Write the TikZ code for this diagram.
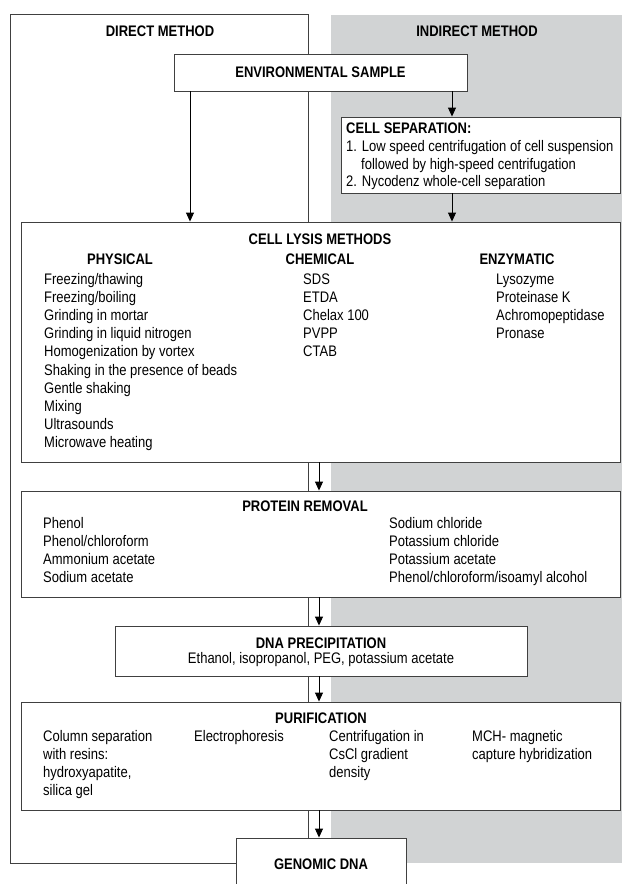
\documentclass[tikz,border=0pt]{standalone}
\usepackage{fontspec}
\setmainfont[FakeStretch=0.85]{Liberation Sans}
\usetikzlibrary{arrows.meta}

\definecolor{indirectfill}{RGB}{209,211,212}
\definecolor{framegray}{RGB}{64,64,64}

\tikzset{
    stage/.style={draw=framegray, line width=0.9pt, fill=white, inner sep=0pt},
    heading/.style={font=\fontsize{15.3}{18}\selectfont\bfseries, inner sep=0pt},
    entry/.style={anchor=base west, inner sep=0pt},
    flow/.style={draw=black, line width=0.9pt, -{Triangle[length=9pt,width=8pt]}},
}

\begin{document}
\begin{tikzpicture}[x=1pt, y=-1pt, font=\fontsize{15.3}{18}\selectfont]
        \useasboundingbox (0,0) rectangle (622,884);
        \clip (0,0) rectangle (622,884);

        % Background: direct and indirect columns
        \fill[indirectfill] (331,15) rectangle (622,863);
        \draw[framegray, line width=0.9pt] (10,14) rectangle (308,863);
        \node[heading, anchor=base] (direct) at (160,36) {DIRECT METHOD};
        \node[heading, anchor=base] (indirect) at (477,36) {INDIRECT METHOD};

        % Sample and cell separation
        \node[stage, minimum width=293, minimum height=37] (env) at (320.5,72.5) {\bfseries ENVIRONMENTAL SAMPLE};
        \node[stage, minimum width=279, minimum height=76] (cellsep) at (480.5,155) {};
        \node[heading, entry] (septitle) at (346,133) {CELL SEPARATION:};
        \node[entry] (sep1) at (346,151) {1. Low speed centrifugation of cell suspension};
        \node[entry] (sep1b) at (361,169) {followed by high-speed centrifugation};
        \node[entry] (sep2) at (346,186) {2. Nycodenz whole-cell separation};

        % Cell lysis
        \node[stage, minimum width=599, minimum height=240] (lysis) at (320.5,342) {};
        \node[heading, anchor=base] (lysistitle) at (320,244) {CELL LYSIS METHODS};
        \node[heading, anchor=base] (physical) at (120,264) {PHYSICAL};
        \node[heading, anchor=base] (chemical) at (320,264) {CHEMICAL};
        \node[heading, anchor=base] (enzymatic) at (517,264) {ENZYMATIC};
        \foreach \txt [count=\i from 0] in {Freezing/thawing, Freezing/boiling, Grinding in mortar,
            Grinding in liquid nitrogen, Homogenization by vortex, Shaking in the presence of beads,
            Gentle shaking, Mixing, Ultrasounds, Microwave heating}
            \node[entry] (phys\i) at (44,{284+18.2*\i}) {\txt};
        \foreach \txt [count=\i from 0] in {SDS, ETDA, Chelax 100, PVPP, CTAB}
            \node[entry] (chem\i) at (303,{284+18.2*\i}) {\txt};
        \foreach \txt [count=\i from 0] in {Lysozyme, Proteinase K, Achromopeptidase, Pronase}
            \node[entry] (enz\i) at (496,{284+18.2*\i}) {\txt};

        % Protein removal
        \node[stage, minimum width=599, minimum height=106] (protein) at (320.5,544) {};
        \node[heading, anchor=base] (proteintitle) at (305,511) {PROTEIN REMOVAL};
        \foreach \txt [count=\i from 0] in {Phenol, Phenol/chloroform, Ammonium acetate, Sodium acetate}
            \node[entry] (protl\i) at (43,{528+18*\i}) {\txt};
        \foreach \txt [count=\i from 0] in {Sodium chloride, Potassium chloride, Potassium acetate,
            Phenol/chloroform/isoamyl alcohol}
            \node[entry] (protr\i) at (389,{528+18*\i}) {\txt};

        % DNA precipitation
        \node[stage, minimum width=412, minimum height=50] (precip) at (321,651) {};
        \node[heading, anchor=base] (preciptitle) at (321,648) {DNA PRECIPITATION};
        \node[anchor=base, inner sep=0pt] (precipagents) at (321,663) {Ethanol, isopropanol, PEG, potassium acetate};

        % Purification
        \node[stage, minimum width=599, minimum height=108] (purif) at (320.5,756) {};
        \node[heading, anchor=base] (puriftitle) at (321,723) {PURIFICATION};
        \foreach \txt [count=\i from 0] in {Column separation, with resins:, {hydroxyapatite,}, silica gel}
            \node[entry] (column\i) at (43,{741+18*\i}) {\txt};
        \node[entry] (electro) at (194,741) {Electrophoresis};
        \foreach \txt [count=\i from 0] in {Centrifugation in, CsCl gradient, density}
            \node[entry] (cscl\i) at (329,{741+18*\i}) {\txt};
        \foreach \txt [count=\i from 0] in {MCH- magnetic, capture hybridization}
            \node[entry] (mch\i) at (472,{741+18*\i}) {\txt};

        % Result
        \node[stage, minimum width=170, minimum height=52] (genomic) at (321,864) {\bfseries GENOMIC DNA};

        % Arrows
        \coordinate (dirx) at (190,0);
        \coordinate (indx) at (452,0);
        \coordinate (mainx) at (319,0);
        \draw[flow] (env.south -| dirx) -- (dirx |- lysis.north);
        \draw[flow] (env.south -| indx) -- (indx |- cellsep.north);
        \draw[flow] (cellsep.south -| indx) -- (indx |- lysis.north);
        \draw[flow] (lysis.south -| mainx) -- (mainx |- protein.north);
        \draw[flow] (protein.south -| mainx) -- (mainx |- precip.north);
        \draw[flow] (precip.south -| mainx) -- (mainx |- purif.north);
        \draw[flow] (purif.south -| mainx) -- (mainx |- genomic.north);
\end{tikzpicture}
\end{document}
